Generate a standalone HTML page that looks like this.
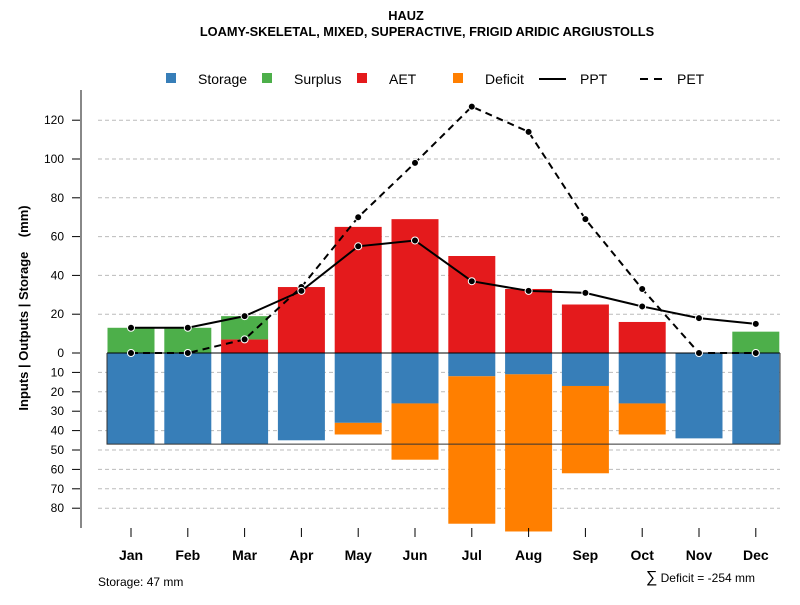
<!DOCTYPE html>
<html><head><meta charset="utf-8"><style>
body{margin:0;background:#fff}
svg{font-family:"Liberation Sans",sans-serif}
</style></head><body>
<svg id="c" width="800" height="600" viewBox="0 0 800 600">
<text x="406" y="20" text-anchor="middle" font-size="12.8" font-weight="bold">HAUZ</text>
<text x="427" y="36" text-anchor="middle" font-size="12.8" font-weight="bold">LOAMY-SKELETAL, MIXED, SUPERACTIVE, FRIGID ARIDIC ARGIUSTOLLS</text>
<g id="legend">
<rect x="166" y="73" width="10" height="10" fill="#377eb8"/>
<text x="198" y="84" font-size="14">Storage</text>
<rect x="262" y="73" width="10" height="10" fill="#4daf4a"/>
<text x="294" y="84" font-size="14">Surplus</text>
<rect x="357" y="73" width="10" height="10" fill="#e41a1c"/>
<text x="389" y="84" font-size="14">AET</text>
<rect x="453" y="73" width="10" height="10" fill="#ff7f00"/>
<text x="485" y="84" font-size="14">Deficit</text>
<line x1="539" y1="79" x2="566" y2="79" stroke="#000" stroke-width="2"/>
<text x="580" y="84" font-size="14">PPT</text>
<line x1="640" y1="79" x2="666" y2="79" stroke="#000" stroke-width="2" stroke-dasharray="8,6"/>
<text x="677" y="84" font-size="14">PET</text>
</g>
<g id="grid"></g><g id="bars"></g><g id="lines"></g><g id="axes"></g>
<text x="98" y="586" font-size="12">Storage: 47 mm</text>
<text x="755" y="582" text-anchor="end" font-size="12"><tspan font-size="16">∑</tspan> Deficit = -254 mm</text>
<text transform="translate(28,308) rotate(-90)" text-anchor="middle" font-size="13" font-weight="bold" xml:space="preserve">Inputs | Outputs | Storage    (mm)</text>
</svg>
<script>
const months=["Jan","Feb","Mar","Apr","May","Jun","Jul","Aug","Sep","Oct","Nov","Dec"];
const storage=[47,47,47,45,36,26,12,11,17,26,44,47];
const deficit=[0,0,0,0,6,29,76,81,45,16,0,0];
const aet=[0,0,7,34,65,69,50,33,25,16,0,0];
const surplus=[13,13,12,0,0,0,0,0,0,0,0,11];
const ppt=[13,13,19,32,55,58,37,32,31,24,18,15];
const pet=[0,0,7,34,70,98,127,114,69,33,0,0];
const upTicks=[0,20,40,60,80,100,120];
const downTicks=[10,20,30,40,50,60,70,80];
const maxStorage=47;
const NS="http://www.w3.org/2000/svg";
const y0=353,k=1.94;
const Y=v=>y0-v*k;
const X=i=>131+i*56.8;
const bw=47;
function mk(t,a,p){const e=document.createElementNS(NS,t);for(const n in a)e.setAttribute(n,a[n]);document.getElementById(p).appendChild(e);return e;}
upTicks.concat(downTicks.map(v=>-v)).forEach(v=>{
 if(v!==0){const g=mk("line",{x1:98,x2:780,y1:Y(v),y2:Y(v),stroke:"#bbb","stroke-dasharray":"4,3"},"grid");
 
 }
 const t=mk("line",{x1:72,x2:81,y1:Y(v),y2:Y(v),stroke:"#000"},"axes");
 
 
 const l=mk("text",{x:64,y:Y(v)+4,"text-anchor":"end","font-size":12},"axes");l.textContent=Math.abs(v);
 
 
});
const ax=mk("line",{x1:81,x2:81,y1:90,y2:528,stroke:"#888","stroke-width":2},"axes");


function bar(i,a,b,c,n){const r=mk("rect",{x:X(i)-bw/2,y:Math.min(Y(a),Y(b)),width:bw,height:Math.abs(Y(a)-Y(b)),fill:c},"bars");
 
 }
months.forEach((m,i)=>{
 bar(i,0,-storage[i],"#377eb8","bar-storage-"+m.toLowerCase());
 if(deficit[i])bar(i,-storage[i],-storage[i]-deficit[i],"#ff7f00","bar-deficit-"+m.toLowerCase());
 if(aet[i])bar(i,0,aet[i],"#e41a1c","bar-aet-"+m.toLowerCase());
 if(surplus[i])bar(i,aet[i],aet[i]+surplus[i],"#4daf4a","bar-surplus-"+m.toLowerCase());
 const t=mk("line",{x1:X(i),x2:X(i),y1:528,y2:537,stroke:"#000"},"axes");
 
 
 const l=mk("text",{x:X(i),y:560,"text-anchor":"middle","font-size":14,"font-weight":"bold"},"axes");l.textContent=m;
 
 
});
const z=mk("line",{x1:107,x2:780,y1:y0,y2:y0,stroke:"#000"},"bars");


const sb=mk("path",{d:`M107 ${y0} V${Y(-maxStorage)} H780 V${y0}`,fill:"none",stroke:"#333"},"bars");


function series(arr,dash,n){
 const p=mk("polyline",{points:arr.map((v,i)=>X(i)+","+Y(v)).join(" "),fill:"none",stroke:"#000","stroke-width":2,"stroke-dasharray":dash},"lines");
 
 
 arr.forEach((v,i)=>{const c=mk("circle",{cx:X(i),cy:Y(v),r:3.5,fill:"#000",stroke:"#fff","stroke-width":1},"lines");
 
 });
}
series(pet,"7,5","pet");
series(ppt,"none","ppt");
</script>
</body></html>
